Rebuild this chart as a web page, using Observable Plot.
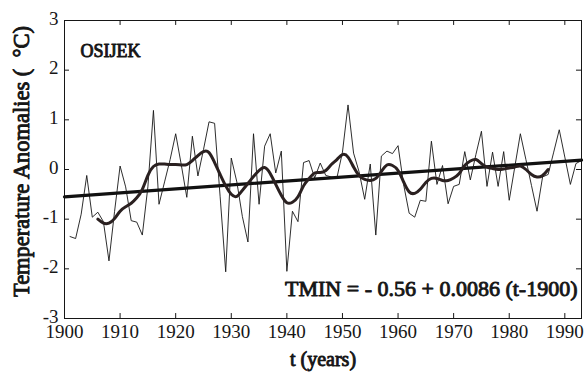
<!DOCTYPE html>
<html><head><meta charset="utf-8">
<script src="https://cdn.jsdelivr.net/npm/d3@7"></script>
<script src="https://cdn.jsdelivr.net/npm/@observablehq/plot@0.6"></script>
<style>
body{margin:0;background:#fff}
svg{display:block}
svg text{font-family:"Liberation Serif","Times New Roman",serif !important}
</style>
</head><body><div id="chart"></div>
<script>
// Annual TMIN anomalies, Osijek, 1901–1993
const firstYear = 1901;
const annual = [
  -1.35,-1.39,-0.90,-0.12,-0.96,-0.86,-1.05,-1.84,-0.85,0.07,
  -0.35,-1.03,-1.06,-1.32,-0.35,1.19,-0.70,-0.25,0.20,0.72,
  0.10,-0.56,0.67,-0.13,0.40,0.96,0.93,-0.55,-2.06,0.23,
  -0.25,-0.95,-1.46,0.72,-0.70,0.47,0.72,-0.07,0.37,-2.05,
  -0.84,-1.05,0.14,0.18,-0.17,0.13,-0.12,-0.15,-0.17,0.35,
  1.30,0.33,-0.05,-0.60,0.11,-1.32,0.27,0.37,0.32,0.48,
  -0.30,-0.88,-0.96,-0.62,-0.64,0.57,-0.30,0.08,-0.69,-0.34,
  -0.30,0.36,-0.21,0.30,0.77,-0.34,0.35,-0.34,0.36,-0.62,
  0.05,0.72,0.20,-0.32,-0.84,-0.15,-0.10,0.35,0.80,0.25,
  -0.30,0.12,0.18
];
// Smoothed curve, 1906–1987
const smoothFirstYear = 1906;
const smooth = [
  -1.00,-1.08,-1.08,-0.99,-0.84,-0.75,-0.68,-0.57,-0.40,-0.12,
  0.06,0.11,0.11,0.10,0.10,0.09,0.10,0.18,0.28,0.36,
  0.34,0.14,-0.10,-0.33,-0.50,-0.54,-0.42,-0.28,-0.14,-0.02,
  0.04,-0.08,-0.30,-0.52,-0.67,-0.66,-0.55,-0.33,-0.18,-0.07,
  -0.06,-0.02,0.10,0.20,0.30,0.25,0.05,-0.12,-0.20,-0.22,
  -0.18,-0.04,0.09,0.08,-0.02,-0.25,-0.45,-0.48,-0.40,-0.26,
  -0.18,-0.18,-0.22,-0.22,-0.17,-0.08,0.08,0.17,0.20,0.12,
  0.05,0.02,0.00,0.01,0.03,0.05,0.07,0.00,-0.10,-0.15,
  -0.12,0.00
];
// Linear trend endpoints
const trendYears = [1900, 1993];
const trendValues = [-0.55, 0.19];

const xTicks = [1900,1910,1920,1930,1940,1950,1960,1970,1980,1990];
const yTicks = [-3,-2,-1,0,1,2,3];

const annualData = annual.map((v,i)=>({year: firstYear+i, v}));
const smoothData = smooth.map((v,i)=>({year: smoothFirstYear+i, v}));
const trendData = trendYears.map((y,i)=>({year: y, v: trendValues[i]}));

const serif = "Liberation Serif";
const ink = "#161616";
// faux-bold: regular serif face with a thin outline
const bold = {fontFamily: serif, fill: ink, stroke: ink, strokeWidth: 0.9};

const chart = Plot.plot({
  width: 584, height: 377,
  marginLeft: 64, marginRight: 3, marginTop: 20, marginBottom: 59,
  style: {fontFamily: serif, fontSize: "18px", color: ink, background: "#fff"},
  x: {domain: [1900, 1993]},
  y: {domain: [-3, 3]},
  marks: [
    Plot.frame({stroke: ink, strokeWidth: 1}),
    Plot.ruleX(xTicks, {x: d=>d, y1: -3, y2: -2.9, stroke: ink}),
    Plot.ruleX(xTicks, {x: d=>d, y1: 2.9, y2: 3, stroke: ink}),
    Plot.ruleY(yTicks, {y: d=>d, x1: 1900, x2: 1900.9, stroke: ink}),
    Plot.ruleY(yTicks, {y: d=>d, x1: 1992.1, x2: 1993, stroke: ink}),
    Plot.axisX({ticks: xTicks, tickSize: 0, tickPadding: 6, tickFormat: d=>String(d), label: null, fontSize: 19, fontFamily: serif}),
    Plot.axisY({ticks: yTicks, tickSize: 0, tickPadding: 6, dy: -2, tickFormat: d=>String(d), label: null, fontSize: 19, fontFamily: serif}),
    Plot.line(annualData, {x: "year", y: "v", stroke: ink, strokeWidth: 0.9}),
    Plot.line(trendData, {x: "year", y: "v", stroke: "#111", strokeWidth: 3.2}),
    Plot.line(smoothData, {x: "year", y: "v", stroke: "#2a2020", strokeWidth: 3, curve: "natural"}),
    Plot.text(["OSIJEK"], {frameAnchor: "top-left", dx: 16, dy: 24, textAnchor: "start", fontSize: 18, ...bold}),
    Plot.text(["TMIN = - 0.56 + 0.0086 (t-1900)"], {frameAnchor: "bottom-right", dx: -4, dy: -23, textAnchor: "end", fontSize: 22, ...bold}),
    Plot.text(["t (years)"], {frameAnchor: "bottom", dy: 47, fontSize: 20, ...bold}),
    Plot.text(["Temperature Anomalies (  °C)"], {frameAnchor: "left", textAnchor: "middle", dx: -43, dy: -8, rotate: -90, fontSize: 22.5, ...bold})
  ]
});
document.getElementById("chart").append(chart);
</script>
</body></html>
